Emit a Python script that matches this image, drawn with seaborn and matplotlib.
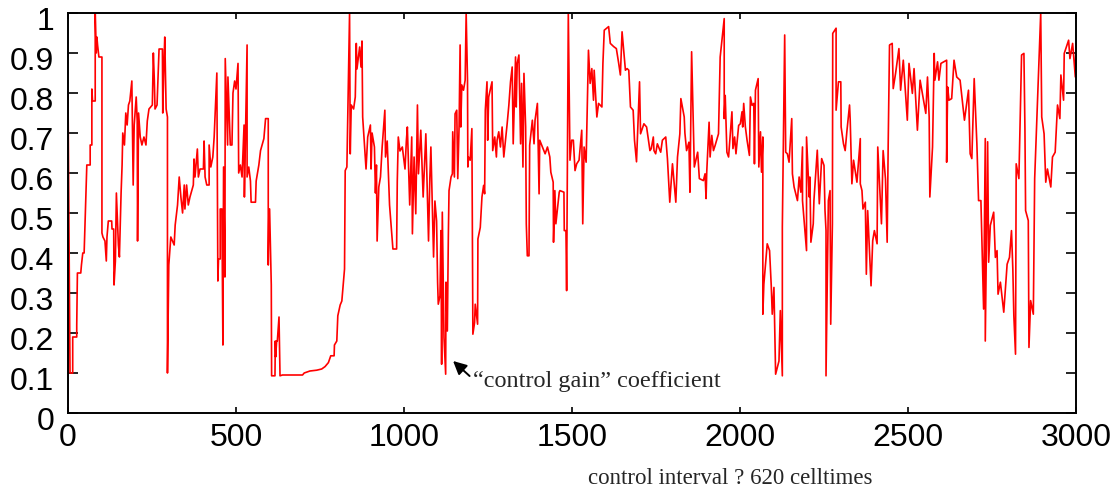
import numpy as np
import pandas as pd
import matplotlib
matplotlib.use("Agg")
import matplotlib.pyplot as plt
import matplotlib.transforms as mtransforms
import seaborn as sns

# ---- data (control interval index, gain coefficient) ----
x_seg1 = [0, 0, 6, 14, 14, 26, 26, 28, 38, 40, 44, 48, 56, 66, 66, 71, 71, 73, 81, 81, 84, 86, 88, 92, 101,
          101, 104, 110, 114, 116, 120, 130, 131, 136, 137, 141, 144, 150, 153, 158, 161, 163, 168, 172, 176,
          180, 184, 190, 194, 197, 203, 206, 207, 210, 215, 220, 226, 232, 236, 241, 251, 254, 257, 259, 265,
          271, 281, 282, 285, 288, 292, 296, 296, 300, 306, 316, 319, 326, 331, 336, 341, 346]
y_seg1 = [0.0, 0.80, 0.10, 0.10, 0.19, 0.19, 0.22, 0.35, 0.35, 0.37, 0.40, 0.40, 0.62, 0.62, 0.67, 0.67, 0.81,
          0.78, 0.78, 1.0, 0.90, 0.94, 0.92, 0.89, 0.89,
          0.45, 0.44, 0.43, 0.38, 0.44, 0.48, 0.48, 0.46, 0.46, 0.32, 0.38, 0.55, 0.42, 0.39, 0.55, 0.62, 0.70,
          0.67, 0.75, 0.72, 0.77, 0.78, 0.83, 0.57, 0.72, 0.79, 0.73, 0.43, 0.75, 0.69, 0.67, 0.69, 0.67, 0.73,
          0.76, 0.77, 0.90, 0.83, 0.76, 0.77, 0.91, 0.91, 0.75, 0.86, 0.94, 0.76, 0.74, 0.10, 0.37, 0.44, 0.42,
          0.47, 0.52, 0.59, 0.54, 0.50, 0.57]

x_seg2 = [348, 353, 358, 363, 373, 375, 378, 385, 388, 393, 403, 405, 408, 413, 420, 420, 425, 431, 435, 443,
          446, 448, 453, 453, 458, 461, 463, 467, 468, 475, 476, 483, 488, 491, 496, 500, 506, 508, 513, 518,
          524, 525, 533, 533, 538, 543, 545, 558, 560, 568, 573, 583, 588, 596, 596, 598, 600, 605, 606, 616,
          617, 618, 621, 623, 628, 631, 638, 698, 703]
y_seg2 = [0.51, 0.57, 0.52, 0.54, 0.57, 0.635, 0.59, 0.66, 0.59, 0.61, 0.61, 0.68, 0.59, 0.57, 0.57, 0.67,
          0.615, 0.64, 0.69, 0.85, 0.33, 0.385, 0.385, 0.51, 0.51, 0.17, 0.615, 0.34, 0.886, 0.67, 0.84, 0.67,
          0.67, 0.80, 0.83, 0.81, 0.874, 0.60, 0.62, 0.59, 0.72, 0.54, 0.92, 0.59, 0.615, 0.58, 0.527, 0.527,
          0.58, 0.62, 0.656, 0.686, 0.736, 0.736, 0.37, 0.51, 0.51, 0.32, 0.093, 0.093, 0.18, 0.14, 0.18, 0.18,
          0.24, 0.093, 0.095, 0.095, 0.10]

x_seg3 = [720, 740, 755, 765, 775, 782, 792, 793, 800, 803, 810, 815, 823, 825, 830, 838, 840, 843, 850, 855,
          858, 860, 868, 872, 875, 877, 887, 892, 900, 902, 905, 912, 915, 918, 920, 925, 930, 935, 943, 945,
          950, 957, 967, 978, 980, 983, 988, 995, 1003, 1007, 1010, 1017, 1023, 1025, 1030, 1035, 1040, 1043,
          1050, 1057, 1065, 1073, 1077, 1080, 1088]
y_seg3 = [0.105, 0.107, 0.11, 0.116, 0.126, 0.143, 0.143, 0.17, 0.18, 0.243, 0.27, 0.28, 0.36, 0.606, 0.615,
          1.0, 0.648, 0.77, 0.76, 0.79, 0.924, 0.86, 0.915, 0.865, 0.93, 0.74, 0.61, 0.69, 0.72, 0.61, 0.70,
          0.665, 0.55, 0.62, 0.43, 0.565, 0.59, 0.665, 0.757, 0.64, 0.68, 0.52, 0.41, 0.41, 0.58, 0.69, 0.655,
          0.665, 0.61, 0.68, 0.715, 0.52, 0.69, 0.448, 0.64, 0.498, 0.77, 0.598, 0.707, 0.54, 0.698, 0.43, 0.59,
          0.665, 0.39]

x_seg4 = [1092, 1097, 1100, 1102, 1107, 1110, 1112, 1114, 1119, 1124, 1125, 1129, 1132, 1134, 1140, 1144,
          1145, 1150, 1152, 1157, 1160, 1164, 1167, 1169, 1172, 1177, 1182, 1185, 1189, 1190, 1192, 1197, 1202,
          1205, 1210, 1212, 1219, 1220, 1227, 1232, 1237, 1240, 1242, 1247, 1249, 1252, 1262, 1264, 1270, 1272,
          1275, 1277, 1282, 1287, 1292, 1297, 1302, 1307, 1312, 1317, 1322, 1325, 1332, 1334, 1337, 1342, 1347,
          1350, 1354, 1357, 1362, 1364, 1367, 1372, 1374, 1382, 1387, 1390, 1397, 1402, 1404, 1412, 1420, 1427,
          1434, 1437, 1444, 1445, 1449, 1452, 1462]
y_seg4 = [0.53, 0.48, 0.327, 0.272, 0.293, 0.456, 0.122, 0.502, 0.189, 0.097, 0.327, 0.205, 0.443, 0.556,
          0.59, 0.598, 0.703, 0.59, 0.748, 0.757, 0.586, 0.719, 0.92, 0.715, 0.82, 0.807, 0.832, 1.0, 0.832,
          0.615, 0.64, 0.632, 0.711, 0.197, 0.226, 0.272, 0.222, 0.435, 0.464, 0.54, 0.569, 0.548, 0.757, 0.828,
          0.682, 0.79, 0.828, 0.656, 0.69, 0.669, 0.64, 0.682, 0.703, 0.665, 0.715, 0.64, 0.682, 0.723, 0.769,
          0.828, 0.865, 0.673, 0.89, 0.765, 0.874, 0.895, 0.673, 0.824, 0.615, 0.849, 0.715, 0.473, 0.393, 0.393,
          0.669, 0.732, 0.673, 0.732, 0.774, 0.548, 0.682, 0.665, 0.648, 0.665, 0.64, 0.602, 0.577, 0.427, 0.556,
          0.473, 0.552]

x_seg5 = [1464, 1476, 1477, 1482, 1484, 1489, 1494, 1499, 1504, 1509, 1514, 1521, 1529, 1532, 1536, 1542,
          1549, 1554, 1559, 1564, 1566, 1574, 1579, 1589, 1592, 1596, 1609, 1614, 1624, 1632, 1639, 1644, 1649,
          1659, 1664, 1669, 1674, 1682, 1686, 1692, 1701, 1704, 1714, 1722, 1732, 1736, 1742, 1744, 1749, 1754,
          1764, 1769, 1779, 1784, 1791, 1799, 1809, 1814, 1821, 1824, 1834]
y_seg5 = [0.556, 0.552, 0.456, 0.456, 0.306, 1.0, 0.632, 0.682, 0.682, 0.606, 0.623, 0.632, 0.707, 0.473,
          0.665, 0.627, 0.907, 0.824, 0.861, 0.782, 0.857, 0.74, 0.774, 0.765, 0.874, 0.957, 0.966, 0.924, 0.916,
          0.911, 0.874, 0.845, 0.953, 0.857, 0.861, 0.857, 0.765, 0.757, 0.682, 0.628, 0.828, 0.698, 0.723,
          0.715, 0.656, 0.661, 0.69, 0.656, 0.648, 0.673, 0.652, 0.682, 0.69, 0.636, 0.527, 0.623, 0.527, 0.64,
          0.698, 0.786, 0.74]

x_seg6 = [1836, 1841, 1848, 1851, 1856, 1864, 1874, 1879, 1891, 1896, 1899, 1901, 1908, 1911, 1916, 1921,
          1926, 1936, 1941, 1953, 1953, 1956, 1961, 1966, 1976, 1979, 1984, 1988, 1996, 2001, 2006, 2008, 2011,
          2016, 2021, 2028, 2031, 2036, 2041, 2043, 2046, 2054, 2056, 2061, 2064, 2068, 2068, 2071, 2081, 2088,
          2093, 2096, 2101, 2106, 2116, 2120, 2126, 2126, 2133, 2136, 2141, 2146, 2154, 2156, 2161, 2171, 2176,
          2181, 2186, 2186, 2198, 2198, 2206]
y_seg6 = [0.70, 0.656, 0.677, 0.552, 0.903, 0.615, 0.652, 0.586, 0.581, 0.598, 0.536, 0.602, 0.727, 0.64,
          0.694, 0.656, 0.669, 0.698, 0.89, 0.986, 0.736, 0.794, 0.652, 0.64, 0.753, 0.661, 0.69, 0.648, 0.719,
          0.723, 0.753, 0.715, 0.774, 0.715, 0.682, 0.644, 0.79, 0.769, 0.774, 0.623, 0.807, 0.836, 0.615, 0.703,
          0.602, 0.69, 0.247, 0.322, 0.423, 0.406, 0.318, 0.247, 0.314, 0.097, 0.13, 0.256, 0.093, 0.465, 0.945,
          0.652, 0.648, 0.627, 0.736, 0.598, 0.565, 0.531, 0.59, 0.552, 0.665, 0.531, 0.406, 0.69, 0.54]

x_seg7 = [2208, 2211, 2218, 2220, 2230, 2236, 2243, 2250, 2253, 2256, 2256, 2263, 2268, 2270, 2275, 2276,
          2286, 2286, 2293, 2300, 2301, 2308, 2313, 2318, 2326, 2328, 2333, 2338, 2348, 2358, 2358, 2363, 2366,
          2373, 2376, 2380, 2390, 2395, 2400, 2408, 2410, 2421, 2426, 2433, 2438, 2441, 2445, 2453, 2456, 2463,
          2473, 2478, 2486, 2498, 2503, 2513, 2518, 2528, 2536, 2553, 2558, 2563, 2565, 2573, 2578]
y_seg7 = [0.59, 0.427, 0.473, 0.531, 0.657, 0.523, 0.636, 0.619, 0.506, 0.456, 0.093, 0.531, 0.556, 0.222,
          0.473, 0.949, 0.962, 0.757, 0.828, 0.828, 0.715, 0.673, 0.656, 0.703, 0.77, 0.732, 0.573, 0.632, 0.577,
          0.686, 0.573, 0.556, 0.51, 0.527, 0.347, 0.506, 0.318, 0.431, 0.456, 0.423, 0.665, 0.473, 0.656, 0.585,
          0.427, 0.669, 0.92, 0.924, 0.811, 0.849, 0.911, 0.807, 0.882, 0.732, 0.874, 0.799, 0.861, 0.707, 0.832,
          0.749, 0.84, 0.74, 0.54, 0.665, 0.899]

x_seg8 = [2580, 2588, 2592, 2598, 2615, 2615, 2618, 2622, 2630, 2637, 2645, 2655, 2668, 2680, 2685, 2690,
          2697, 2705, 2710, 2717, 2725, 2730, 2730, 2737, 2740, 2745, 2755, 2760, 2765, 2768, 2775, 2785, 2792,
          2795, 2802, 2808, 2812, 2815, 2820, 2822, 2830, 2838, 2845, 2848, 2850, 2858, 2860, 2865, 2873, 2877,
          2895, 2898, 2905, 2910, 2915, 2925, 2930, 2938, 2945, 2952, 2955, 2963, 2965, 2978, 2982, 2990, 2998,
          3000, 3000]
y_seg8 = [0.832, 0.878, 0.832, 0.874, 0.882, 0.627, 0.815, 0.782, 0.786, 0.882, 0.84, 0.832, 0.732, 0.807,
          0.648, 0.636, 0.836, 0.673, 0.531, 0.531, 0.26, 0.686, 0.18, 0.678, 0.377, 0.469, 0.502, 0.389, 0.406,
          0.297, 0.327, 0.252, 0.335, 0.372, 0.389, 0.456, 0.36, 0.243, 0.147, 0.623, 0.586, 0.895, 0.899, 0.711,
          0.506, 0.481, 0.164, 0.281, 0.247, 0.586, 1.0, 0.74, 0.698, 0.577, 0.61, 0.565, 0.64, 0.652, 0.77,
          0.736, 0.845, 0.782, 0.899, 0.932, 0.886, 0.924, 0.84, 0.924, 0.84]

x_ticks = [0, 500, 1000, 1500, 2000, 2500, 3000]
x_tick_labels = ["0", "500", "1000", "1500", "2000", "2500", "3000"]
y_ticks = [0, 0.1, 0.2, 0.3, 0.4, 0.5, 0.6, 0.7, 0.8, 0.9, 1.0]
y_tick_labels = ["0", "0.1", "0.2", "0.3", "0.4", "0.5", "0.6", "0.7", "0.8", "0.9", "1"]

annotation_text = "\u201ccontrol gain\u201d coefficient"
annotation_point = (1146, 0.13)
annotation_text_pos = (1205, 0.066)
x_label = "control interval ? 620 celltimes"

xs = (x_seg1 + x_seg2 + x_seg3 + x_seg4 + x_seg5 + x_seg6 + x_seg7 + x_seg8)
ys = (y_seg1 + y_seg2 + y_seg3 + y_seg4 + y_seg5 + y_seg6 + y_seg7 + y_seg8)
df = pd.DataFrame({"interval": xs, "gain": ys})

# ---- style ----
sns.set_style("ticks")
plt.rcParams["font.family"] = ["Liberation Sans", "DejaVu Sans"]

fig = plt.figure(figsize=(11.2, 4.93), dpi=100)
ax = fig.add_axes([68 / 1120, 1 - 413 / 493, 1008 / 1120, 400 / 493])

sns.lineplot(data=df, x="interval", y="gain", ax=ax, sort=False, estimator=None,
             color="#ff0000", linewidth=1.2)

ax.set_xlim(0, 3000)
ax.set_ylim(0, 1)
ax.set_xticks(x_ticks)
ax.set_xticklabels(x_tick_labels)
ax.set_yticks(y_ticks)
ax.set_yticklabels(y_tick_labels)

for s in ax.spines.values():
    s.set_visible(True)
    s.set_color("black")
    s.set_linewidth(1.4)

ax.tick_params(axis="x", direction="in", length=4, width=1.2, top=True, bottom=True,
               labelsize=23, pad=7, colors="black")
ax.tick_params(axis="y", direction="in", length=7, width=1.2, left=True, right=True,
               labelsize=23, pad=10, colors="black")

# y tick labels sit a few pixels below their ticks in the reference
for tick in ax.yaxis.get_major_ticks():
    off = mtransforms.ScaledTranslation(0, -5 / 100, fig.dpi_scale_trans)
    tick.label1.set_transform(tick.label1.get_transform() + off)

ax.set_xlabel(x_label, family=["Liberation Serif", "DejaVu Serif"], fontsize=16.5,
              ha="left", va="baseline")
ax.xaxis.set_label_coords((588 - 68) / 1008, (413 - 484) / 400)
ax.set_ylabel("")

ax.annotate(annotation_text, xy=annotation_point, xytext=annotation_text_pos,
            textcoords="data", ha="left", va="baseline",
            family=["Liberation Serif", "DejaVu Serif"], fontsize=17.5,
            arrowprops=dict(arrowstyle="-|>", color="black", lw=1.4, mutation_scale=20,
                            relpos=(0, 0.6), shrinkA=0, shrinkB=0))

fig.savefig("out.png", dpi=100, facecolor="white")
